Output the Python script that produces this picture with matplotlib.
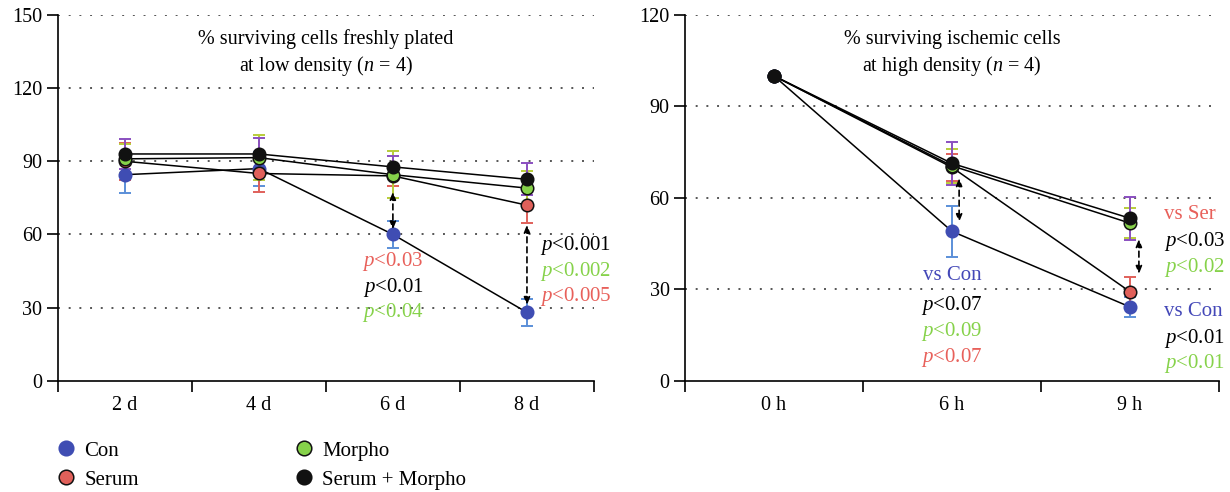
import matplotlib
matplotlib.use("Agg")
import matplotlib.pyplot as plt
from matplotlib.lines import Line2D

plt.rcParams['font.family'] = ['Liberation Serif', 'DejaVu Serif']
plt.rcParams['mathtext.fontset'] = 'custom'
plt.rcParams['mathtext.rm'] = 'Liberation Serif'
plt.rcParams['mathtext.it'] = 'Liberation Serif:italic'

# ---------------- data ----------------
days = ['2 d', '4 d', '6 d', '8 d']
con_d = [84.5, 87, 60, 28]
con_d_err = [7.5, 7, 5.7, 5.5]
serum_d = [90, 85, 84, 72]
serum_d_err = [7.5, 7.5, 4, 7.5]
morpho_d = [91, 91.5, 84.5, 79]
morpho_d_err = [6, 9.3, 9.7, 7]
sm_d = [93, 93, 87.7, 82.6]
sm_d_err = [6, 6.7, 4.6, 6.6]

hours = ['0 h', '6 h', '9 h']
con_h = [100, 49, 24.2]
con_h_err = [0, 8.3, 3.4]
serum_h = [100, 70, 29.2]
serum_h_err = [0, 4.5, 4.7]
morpho_h = [100, 70.5, 51.7]
morpho_h_err = [0, 5.5, 5]
sm_h = [100, 71.3, 53.3]
sm_h_err = [0, 7, 7]

series_names = ['Con', 'Serum', 'Morpho', 'Serum + Morpho']
fill_colors = ['#3f4db3', '#e0605a', '#86d24a', '#111111']
edge_colors = ['#3f4db3', '#111111', '#111111', '#111111']
err_colors = ['#5b8fd8', '#e0605a', '#b8cc3a', '#8a4fc0']

RED = '#e8605a'
GREEN = '#86d24a'
BLUE = '#4448b8'

W, H = 1230, 492
fig = plt.figure(figsize=(W / 100, H / 100), dpi=100)
y0 = 1 - 380.7 / H
hh = (380.7 - 15) / H
ax1 = fig.add_axes([57.7 / W, y0, (594 - 57.7) / W, hh])
ax2 = fig.add_axes([685 / W, y0, (1219 - 685) / W, hh])

TICK_FS = 14.5
NOTE_FS = 15
TITLE_FS = 14.5


def style_axes(ax, cats, ymax, ystep):
    n = len(cats)
    ax.set_xlim(-0.5, n - 0.5)
    ax.set_ylim(0, ymax)
    ax.spines['top'].set_visible(False)
    ax.spines['right'].set_visible(False)
    for s in ['left', 'bottom']:
        ax.spines[s].set_linewidth(1.2)
    ax.set_xticks([i - 0.5 for i in range(n + 1)])
    ax.set_xticklabels([''] * (n + 1))
    ax.set_xticks(list(range(n)), minor=True)
    ax.set_xticklabels(cats, minor=True, fontsize=TICK_FS)
    ax.tick_params(axis='x', which='major', length=8, width=1.2, direction='out')
    ax.tick_params(axis='x', which='minor', length=0, pad=11)
    ticks = list(range(0, ymax + 1, ystep))
    ax.set_yticks(ticks)
    ax.tick_params(axis='y', length=8, width=1.2, labelsize=TICK_FS, pad=3)
    for t in ticks[1:]:
        ax.axhline(t, color='#555555', lw=1.4, ls=(0, (1, 4.5)), zorder=1)


def draw_series(ax, values, errs):
    x = list(range(len(values[0])))
    for v, e, ec in zip(values, errs, err_colors):
        ax.errorbar(x, v, yerr=e, fmt='none', ecolor=ec, elinewidth=1.4,
                    capsize=4.5, capthick=1.4, zorder=2)
    for v, fc, mec in zip(values, fill_colors, edge_colors):
        ax.plot(x, v, color='black', lw=1.1, marker='o', markersize=9,
                markerfacecolor=fc, markeredgecolor=mec, markeredgewidth=1.1,
                zorder=3)


def darrow(ax, x, ya, yb):
    ax.annotate('', xy=(x, yb), xytext=(x, ya),
                arrowprops=dict(arrowstyle='<|-|>,head_length=0.45,head_width=0.18',
                                color='black', lw=1.2, ls=(0, (3.5, 2.5)),
                                shrinkA=0, shrinkB=0), zorder=5)


# ---------------- left panel ----------------
style_axes(ax1, days, 150, 30)
draw_series(ax1, [con_d, serum_d, morpho_d, sm_d],
            [con_d_err, serum_d_err, morpho_d_err, sm_d_err])
ax1.text(0.5, 0.934, '% surviving cells freshly plated', transform=ax1.transAxes,
         ha='center', va='center', fontsize=TITLE_FS)
ax1.text(0.5, 0.861, r'at low density ($n$ = 4)', transform=ax1.transAxes,
         ha='center', va='center', fontsize=TITLE_FS)
darrow(ax1, 2, 77.5, 62)
darrow(ax1, 3, 64, 31)
fs = NOTE_FS
ax1.text(2, 48.9, r'$p$<0.03', color=RED, ha='center', va='center', fontsize=fs)
ax1.text(2, 38.3, r'$p$<0.01', color='black', ha='center', va='center', fontsize=fs)
ax1.text(2, 28.0, r'$p$<0.04', color=GREEN, ha='center', va='center', fontsize=fs)
ax1.text(3.1, 55.4, r'$p$<0.001', color='black', ha='left', va='center', fontsize=fs)
ax1.text(3.1, 44.8, r'$p$<0.002', color=GREEN, ha='left', va='center', fontsize=fs)
ax1.text(3.1, 34.6, r'$p$<0.005', color=RED, ha='left', va='center', fontsize=fs)

# ---------------- right panel ----------------
style_axes(ax2, hours, 120, 30)
draw_series(ax2, [con_h, serum_h, morpho_h, sm_h],
            [con_h_err, serum_h_err, morpho_h_err, sm_h_err])
ax2.text(0.5, 0.934, '% surviving ischemic cells', transform=ax2.transAxes,
         ha='center', va='center', fontsize=TITLE_FS)
ax2.text(0.5, 0.861, r'at high density ($n$ = 4)', transform=ax2.transAxes,
         ha='center', va='center', fontsize=TITLE_FS)
darrow(ax2, 1.04, 66.5, 52)
darrow(ax2, 2.05, 46.5, 35)
ax2.text(1, 34.4, 'vs Con', color=BLUE, ha='center', va='center', fontsize=fs)
ax2.text(1, 24.6, r'$p$<0.07', color='black', ha='center', va='center', fontsize=fs)
ax2.text(1, 16.1, r'$p$<0.09', color=GREEN, ha='center', va='center', fontsize=fs)
ax2.text(1, 7.7, r'$p$<0.07', color=RED, ha='center', va='center', fontsize=fs)
ax2.text(2.19, 54.4, 'vs Ser', color=RED, ha='left', va='center', fontsize=fs)
ax2.text(2.19, 45.6, r'$p$<0.03', color='black', ha='left', va='center', fontsize=fs)
ax2.text(2.19, 37.1, r'$p$<0.02', color=GREEN, ha='left', va='center', fontsize=fs)
ax2.text(2.19, 22.7, 'vs Con', color=BLUE, ha='left', va='center', fontsize=fs)
ax2.text(2.19, 13.7, r'$p$<0.01', color='black', ha='left', va='center', fontsize=fs)
ax2.text(2.19, 5.7, r'$p$<0.01', color=GREEN, ha='left', va='center', fontsize=fs)
for t in ax2.texts[-6:]:
    t.set_clip_on(False)

# ---------------- legend ----------------
handles = [Line2D([], [], ls='none', marker='o', markersize=10.5,
                  markerfacecolor=fc, markeredgecolor=mec, markeredgewidth=1.1)
           for fc, mec in zip(fill_colors, edge_colors)]
fig.legend(handles, series_names, ncol=2, loc='upper left',
           bbox_to_anchor=(56 / W, 1 - 441 / H), frameon=False, fontsize=15,
           handletextpad=0.35, columnspacing=7.45, labelspacing=0.45,
           handlelength=1.0, borderaxespad=0, borderpad=0)

fig.savefig('out.png', dpi=100)
